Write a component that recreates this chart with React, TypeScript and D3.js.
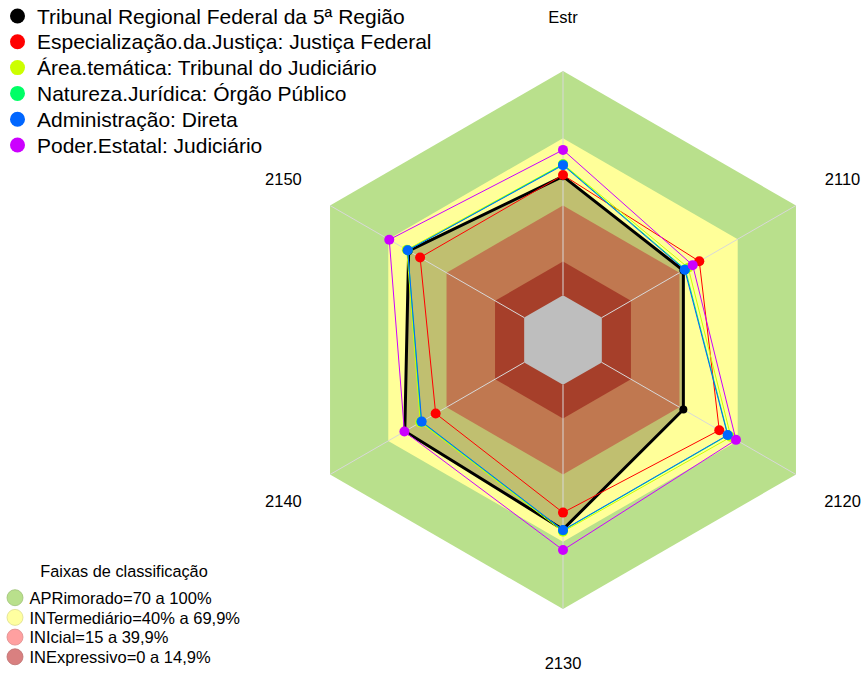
import * as d3 from "d3";

// eixos do radar, sentido horário a partir do topo
const axes = ["Estr", "2110", "2120", "2130", "2140", "2150"];

// valores (%) por eixo
const tribunal = [53, 42, 42, 64.5, 61.5, 59.5];
const especializacao = [53.6, 50.2, 60.5, 57, 45.6, 53.6];
const areaTematica = [58.5, 44.5, 66.5, 65.5, 53.5, 60.5];
const natureza = [58.3, 43, 65, 65, 53, 60];
const administracao = [58, 42.7, 64.8, 64.8, 52.8, 60];
const poder = [64.8, 46.8, 69.1, 73.7, 61.7, 69.5];

const seriesNames = [
  "Tribunal Regional Federal da 5ª Região",
  "Especialização.da.Justiça: Justiça Federal",
  "Área.temática: Tribunal do Judiciário",
  "Natureza.Jurídica: Órgão Público",
  "Administração: Direta",
  "Poder.Estatal: Judiciário",
];
const seriesValues = [tribunal, especializacao, areaTematica, natureza, administracao, poder];
const seriesColors = ["#000000", "#ff0000", "#ccff00", "#00ff66", "#0066ff", "#cc00ff"];

// faixas de classificação
const bandLabels = [
  "APRimorado=70 a 100%",
  "INTermediário=40% a 69,9%",
  "INIcial=15 a 39,9%",
  "INExpressivo=0 a 14,9%",
];
const bandLegendColors = ["#b9e08c", "#ffffa0", "#ffa0a0", "#d98080"];

const W = 865;
const H = 675;
const cx = 563;
const cy = 340;
const R = 269;
const font = "'Liberation Sans', Arial, sans-serif";

export default function App() {
  const r = d3.scaleLinear().domain([0, 100]).range([R / 6, R]);
  const angle = (i: number) => (i * 2 * Math.PI) / axes.length;
  const px = (i: number, v: number) => r(v) * Math.sin(angle(i));
  const py = (i: number, v: number) => -r(v) * Math.cos(angle(i));

  const radial = d3
    .lineRadial<number>()
    .angle((_, i) => angle(i))
    .radius((d) => r(d))
    .curve(d3.curveLinearClosed);

  const ring = (v: number) => radial(axes.map(() => v)) || "";

  return (
    <svg width={W} height={H} style={{ position: "absolute", left: 0, top: 0 }} fontFamily={font}>
      <rect width={W} height={H} fill="#ffffff" />
      <g transform={`translate(${cx},${cy})`}>
        <path d={ring(100)} fill="#b9e08c" />
        <path d={ring(70)} fill="#ffff99" />
        <path d={radial(tribunal) || ""} fill="#c0bf70" />
        <path d={ring(40)} fill="#c07850" />
        <path d={ring(15)} fill="#a63f2a" />
        <path d={ring(0)} fill="#bebebe" />
        {axes.map((a, i) => (
          <line
            key={a}
            x1={px(i, 0)}
            y1={py(i, 0)}
            x2={px(i, 100)}
            y2={py(i, 100)}
            stroke="#d8d8d8"
            strokeWidth={1}
          />
        ))}
        {seriesValues.map((vals, s) => (
          <g key={s}>
            <path
              d={radial(vals) || ""}
              fill="none"
              stroke={seriesColors[s]}
              strokeWidth={s === 0 ? 3 : 1}
              strokeLinejoin="round"
            />
            {vals.map((v, i) => (
              <circle key={i} cx={px(i, v)} cy={py(i, v)} r={s === 0 ? 4 : 5} fill={seriesColors[s]} />
            ))}
          </g>
        ))}
        {axes.map((a, i) => (
          <text
            key={a}
            x={1.2 * R * Math.sin(angle(i))}
            y={-1.2 * R * Math.cos(angle(i))}
            textAnchor="middle"
            dominantBaseline="central"
            fontSize={16.5}
            fill="#000"
          >
            {a}
          </text>
        ))}
      </g>

      {/* legenda das séries */}
      {seriesNames.map((n, s) => (
        <g key={n} transform={`translate(0,${16 + s * 25.8})`}>
          <circle cx={17.5} cy={0} r={7.5} fill={seriesColors[s]} />
          <text x={37} y={7.5} fontSize={21} fill="#000">
            {n}
          </text>
        </g>
      ))}

      {/* legenda das faixas */}
      <text x={124} y={577} textAnchor="middle" fontSize={16.3} fill="#000">
        Faixas de classificação
      </text>
      {bandLabels.map((b, k) => (
        <g key={b} transform={`translate(0,${597.7 + k * 19.7})`}>
          <circle cx={15} cy={0} r={8} fill={bandLegendColors[k]} stroke={d3.color(bandLegendColors[k])?.darker(0.4).toString()} strokeWidth={0.8} />
          <text x={29.5} y={6.2} fontSize={16.5} fill="#000">
            {b}
          </text>
        </g>
      ))}
    </svg>
  );
}
